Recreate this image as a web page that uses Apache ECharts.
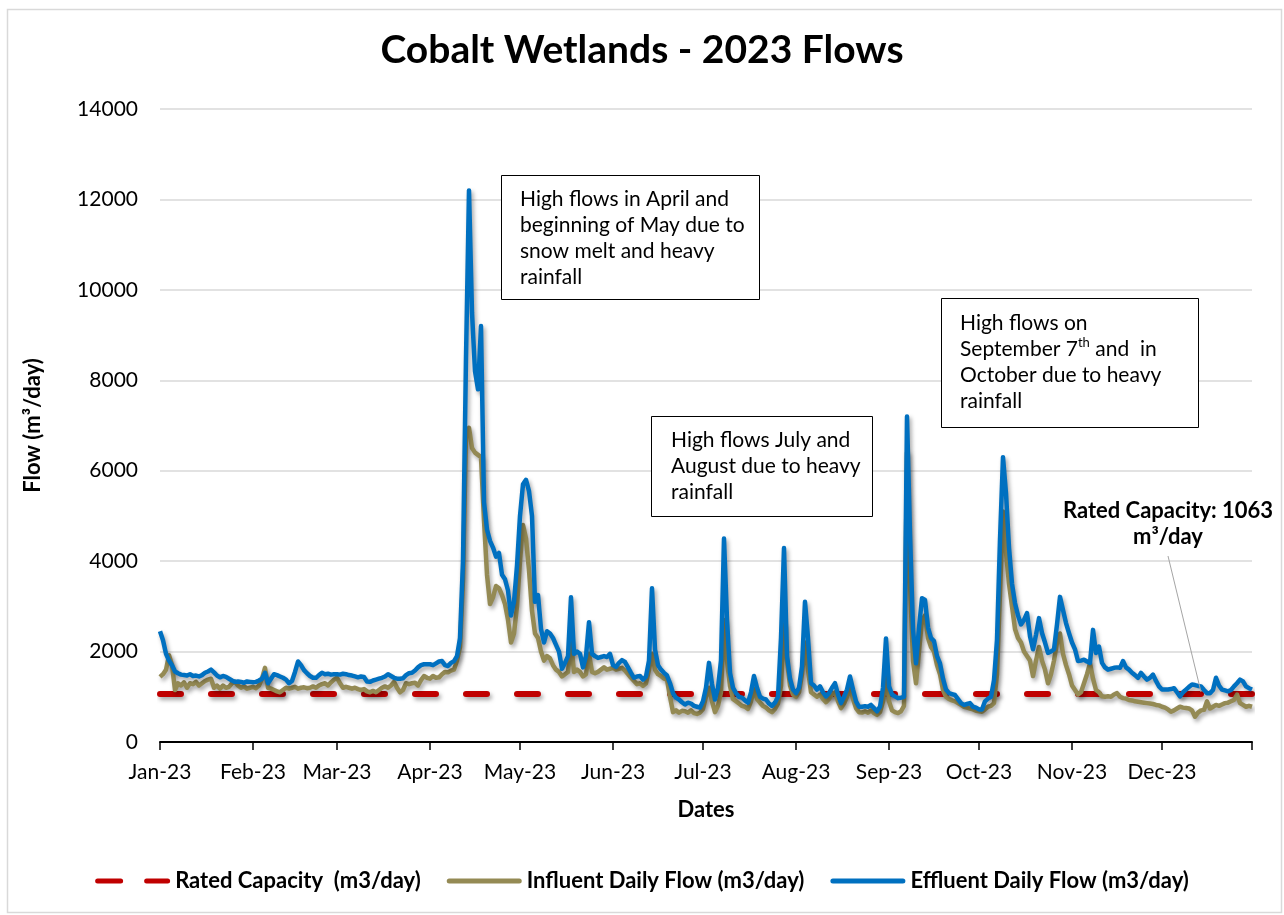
<!DOCTYPE html>
<html><head><meta charset="utf-8">
<script src="https://cdn.jsdelivr.net/npm/echarts@6/dist/echarts.min.js"></script>
<style>html,body{margin:0;padding:0;background:#fff}#c{width:1284px;height:915px}</style>
</head><body><div id="c"></div>
<script>
const YEAR = 2023;
const MONTH_LABELS = ['Jan-23','Feb-23','Mar-23','Apr-23','May-23','Jun-23','Jul-23','Aug-23','Sep-23','Oct-23','Nov-23','Dec-23'];
const RATED_CAPACITY = 1063;
const SERIES_NAMES = ['Rated Capacity  (m3/day)', 'Influent Daily Flow (m3/day)', 'Effluent Daily Flow (m3/day)'];

// Influent daily flow, one value per day, grouped by month
const INFLUENT_JAN = [1440,1500,1600,1920,1700,1150,1300,1250,1320,1200,1300,1280,1330,1250,1300,1350,1380,1400,1200,1250,1180,1250,1200,1220,1300,1330,1250,1200,1230,1180,1200];
const INFLUENT_FEB = [1220,1190,1250,1400,1640,1200,1180,1150,1120,1100,1150,1200,1180,1200,1220,1180,1200,1210,1190,1200,1230,1200,1250,1280,1300,1250,1320,1380];
const INFLUENT_MAR = [1420,1300,1200,1220,1200,1180,1200,1170,1150,1170,1120,1100,1130,1100,1150,1200,1230,1200,1250,1330,1200,1100,1150,1300,1280,1300,1310,1250,1370,1460,1420];
const INFLUENT_APR = [1400,1460,1420,1430,1500,1550,1540,1580,1600,1800,2100,3600,6800,6950,6500,6400,6350,6300,4900,3700,3050,3200,3450,3400,3250,3050,2700,2200,2400,3000];
const INFLUENT_MAY = [4000,4800,4500,3800,2900,2400,2300,2000,1800,1900,1850,1700,1600,1550,1450,1500,1550,2200,1550,1600,1550,1450,1500,1950,1550,1520,1550,1600,1650,1600,1620];
const INFLUENT_JUN = [1640,1600,1620,1640,1580,1500,1420,1350,1280,1300,1240,1300,1600,1950,1600,1500,1460,1400,1380,1000,660,700,650,690,680,650,700,640,620,650];
const INFLUENT_JUL = [730,1000,1200,900,660,800,1100,2700,1800,1240,950,900,850,800,780,730,900,1170,950,870,800,760,700,660,730,850,1240,2600,1800,1250,1050];
const INFLUENT_AUG = [1000,1100,1500,2200,1600,1100,1050,1000,1050,950,880,950,1050,1100,900,750,850,1000,1200,950,750,660,650,680,650,700,640,600,660,900,1500];
const INFLUENT_SEP = [900,700,660,640,680,800,6400,3500,1800,1300,2000,2700,2800,2300,2100,2000,1700,1500,1150,1000,950,920,900,860,820,780,760,740,720,690];
const INFLUENT_OCT = [680,670,720,780,800,860,1500,3300,5100,4200,3500,3000,2500,2300,2200,2000,1900,1800,1460,1800,2100,1800,1600,1300,1500,1800,2200,2400,1950,1700,1500];
const INFLUENT_NOV = [1250,1150,1050,1100,1300,1500,1740,1400,1150,1100,1010,1000,1010,1000,1050,1080,1000,970,960,930,920,900,890,880,870,860,850,840,820,810];
const INFLUENT_DEC = [780,760,720,670,700,740,780,760,750,740,700,560,650,700,710,900,740,780,820,800,830,860,870,900,930,1050,860,820,780,800,780];

// Effluent daily flow, one value per day, grouped by month
const EFFLUENT_JAN = [2450,2250,1950,1800,1700,1560,1520,1490,1480,1470,1500,1460,1470,1450,1480,1530,1560,1600,1540,1470,1430,1460,1440,1400,1360,1330,1340,1330,1310,1340,1330];
const EFFLUENT_FEB = [1320,1330,1360,1400,1530,1300,1400,1500,1480,1450,1420,1380,1300,1350,1550,1780,1700,1590,1520,1460,1420,1420,1480,1530,1500,1510,1490,1500];
const EFFLUENT_MAR = [1500,1490,1510,1500,1480,1470,1450,1430,1450,1440,1340,1330,1360,1380,1400,1420,1450,1500,1460,1420,1400,1400,1410,1480,1520,1530,1580,1650,1700,1720,1720];
const EFFLUENT_APR = [1720,1700,1740,1780,1790,1700,1680,1750,1790,1900,2300,4000,8500,12200,9500,8200,7800,9200,5300,4700,4450,4300,4100,4180,3700,3600,3350,2800,3100,3900];
const EFFLUENT_MAY = [5000,5700,5800,5550,5000,3100,3250,2500,2200,2450,2400,2300,2150,2000,1620,1750,1900,3200,1950,2000,1950,1650,1900,2650,1950,1900,1860,1880,1900,1880,1950];
const EFFLUENT_JUN = [1700,1660,1750,1810,1770,1650,1530,1420,1450,1460,1380,1450,1800,3400,2050,1700,1600,1530,1470,1300,1080,980,940,880,830,870,850,800,780,760];
const EFFLUENT_JUL = [900,1200,1750,1280,940,1200,1800,4500,2700,1530,1200,1080,1000,980,920,870,1100,1460,1200,1000,960,940,850,800,870,1000,2300,4290,1900,1400,1160];
const EFFLUENT_AUG = [1080,1200,1670,3100,2300,1300,1250,1160,1230,1100,1010,1080,1200,1300,1050,860,1000,1160,1450,1160,900,780,780,790,780,820,750,680,780,1200,2290];
const EFFLUENT_SEP = [1230,1050,1010,970,980,1000,7200,4600,2500,1740,2530,3180,3140,2530,2300,2230,1900,1740,1400,1160,1080,1060,1040,950,860,820,840,860,780,760];
const EFFLUENT_OCT = [720,720,900,960,1000,1370,2260,4470,6300,5500,4300,3500,3070,2800,2600,2700,2850,2340,2050,2370,2740,2410,2200,1970,2000,2050,2600,3210,2920,2630,2410];
const EFFLUENT_NOV = [2200,2050,1790,1800,1820,1780,1750,2480,1970,2110,1750,1650,1600,1620,1640,1650,1640,1790,1650,1600,1530,1480,1420,1530,1450,1380,1420,1490,1350,1230];
const EFFLUENT_DEC = [1160,1160,1160,1170,1190,1100,1010,1100,1160,1220,1270,1260,1240,1230,1150,1080,1080,1150,1420,1250,1160,1140,1120,1150,1230,1300,1380,1340,1230,1190,1160];

const Y_MIN = 0, Y_MAX = 14000, Y_STEP = 2000;

const INFLUENT = [].concat(INFLUENT_JAN, INFLUENT_FEB, INFLUENT_MAR, INFLUENT_APR, INFLUENT_MAY, INFLUENT_JUN,
  INFLUENT_JUL, INFLUENT_AUG, INFLUENT_SEP, INFLUENT_OCT, INFLUENT_NOV, INFLUENT_DEC);
const EFFLUENT = [].concat(EFFLUENT_JAN, EFFLUENT_FEB, EFFLUENT_MAR, EFFLUENT_APR, EFFLUENT_MAY, EFFLUENT_JUN,
  EFFLUENT_JUL, EFFLUENT_AUG, EFFLUENT_SEP, EFFLUENT_OCT, EFFLUENT_NOV, EFFLUENT_DEC);

// daily date categories for the year
const DATES = [];
for (let d = new Date(Date.UTC(YEAR, 0, 1)); d.getUTCFullYear() === YEAR; d.setUTCDate(d.getUTCDate() + 1)) {
  DATES.push(d.toISOString().slice(0, 10));
}
const RATED = [[DATES[0], RATED_CAPACITY], [DATES[DATES.length - 1], RATED_CAPACITY]];

const FONT = 'Lato';
const shadow = { shadowColor: 'rgba(0,0,0,0.35)', shadowBlur: 4, shadowOffsetX: 2, shadowOffsetY: 3 };

// legend icons (rounded line swatches)
const ICON_SOLID = 'path://M2.5,0H72.5A2.5,2.5,0,0,1,72.5,5H2.5A2.5,2.5,0,0,1,2.5,0Z';
const ICON_DASHED = 'path://M2.5,0H25.5A2.5,2.5,0,0,1,25.5,5H2.5A2.5,2.5,0,0,1,2.5,0ZM51.5,0H72.5A2.5,2.5,0,0,1,72.5,5H51.5A2.5,2.5,0,0,1,51.5,0Z';

const chart = echarts.init(document.getElementById('c'), null, { renderer: 'canvas' });
chart.setOption({
  animation: false,
  backgroundColor: '#fff',
  textStyle: { fontFamily: FONT },
  title: {
    text: 'Cobalt Wetlands - 2023 Flows',
    left: 'center', top: 26,
    textStyle: { fontFamily: FONT, fontSize: 39, fontWeight: 'bold', color: '#000' }
  },
  grid: { left: 160, right: 32, top: 109, bottom: 173, containLabel: false },
  legend: {
    data: [
      { name: SERIES_NAMES[0], icon: ICON_DASHED },
      { name: SERIES_NAMES[1], icon: ICON_SOLID },
      { name: SERIES_NAMES[2], icon: ICON_SOLID }
    ],
    left: 'center', top: 865,
    itemWidth: 75, itemHeight: 5, itemGap: 26,
    itemStyle: { borderWidth: 0 },
    textStyle: { fontFamily: FONT, fontSize: 22, fontWeight: 'bold', color: '#000' }
  },
  xAxis: {
    type: 'category',
    data: DATES,
    boundaryGap: false,
    name: 'Dates', nameLocation: 'middle', nameGap: 57,
    nameTextStyle: { fontFamily: FONT, fontSize: 22, fontWeight: 'bold', color: '#000' },
    axisLine: { lineStyle: { color: '#000', width: 2 } },
    axisTick: {
      length: 8, lineStyle: { color: '#000', width: 1.5 },
      interval: (i, v) => v.slice(8) === '01' || i === DATES.length - 1
    },
    axisLabel: {
      interval: (i, v) => v.slice(8) === '01',
      formatter: v => MONTH_LABELS[+v.slice(5, 7) - 1],
      fontFamily: FONT, fontSize: 21, color: '#000', margin: 20
    },
    splitLine: { show: false }
  },
  yAxis: {
    type: 'value', min: Y_MIN, max: Y_MAX, interval: Y_STEP,
    name: 'Flow (m³/day)', nameLocation: 'middle', nameGap: 116, nameRotate: 90,
    nameTextStyle: { fontFamily: FONT, fontSize: 22, fontWeight: 'bold', color: '#000' },
    axisLine: { show: false }, axisTick: { show: false },
    axisLabel: { fontFamily: FONT, fontSize: 21, color: '#000', margin: 22, formatter: v => String(v) },
    splitLine: { lineStyle: { color: '#D9D9D9', width: 1.5 } }
  },
  series: [
    {
      name: SERIES_NAMES[0], type: 'line', data: RATED, showSymbol: false, symbol: 'none',
      lineStyle: Object.assign({ color: '#C00000', width: 6, type: [21, 30], cap: 'round' }, shadow),
      itemStyle: { color: '#C00000' }
    },
    {
      name: SERIES_NAMES[1], type: 'line', data: INFLUENT, showSymbol: false, symbol: 'none',
      lineStyle: Object.assign({ color: '#948A54', width: 4.5, join: 'round' }, shadow),
      itemStyle: { color: '#948A54' }
    },
    {
      name: SERIES_NAMES[2], type: 'line', data: EFFLUENT, showSymbol: false, symbol: 'none',
      lineStyle: Object.assign({ color: '#0070C0', width: 4.5, join: 'round' }, shadow),
      itemStyle: { color: '#0070C0' }
    }
  ],
  graphic: [
    { type: 'rect', left: 5, top: 7, shape: { width: 1274, height: 903 }, style: { fill: 'none', stroke: '#D9D9D9', lineWidth: 1.5 }, silent: true },
    { type: 'rect', left: 501, top: 175, z: 10, shape: { width: 258, height: 124 }, style: { fill: '#fff', stroke: '#000', lineWidth: 1 } },
    { type: 'text', left: 520, top: 186, z: 11, style: { text: 'High flows in April and\nbeginning of May due to\nsnow melt and heavy\nrainfall', font: '21px Lato', lineHeight: 26, fill: '#000' } },
    { type: 'rect', left: 651, top: 416, z: 10, shape: { width: 221, height: 100 }, style: { fill: '#fff', stroke: '#000', lineWidth: 1 } },
    { type: 'text', left: 671, top: 427, z: 11, style: { text: 'High flows July and\nAugust due to heavy\nrainfall', font: '21px Lato', lineHeight: 26, fill: '#000' } },
    { type: 'rect', left: 941, top: 298, z: 10, shape: { width: 257, height: 129 }, style: { fill: '#fff', stroke: '#000', lineWidth: 1 } },
    { type: 'text', left: 960, top: 310, z: 11, style: {
        text: 'High flows on\nSeptember 7{sup|th} and  in\nOctober due to heavy\nrainfall',
        font: '21px Lato', lineHeight: 26, fill: '#000',
        rich: { sup: { fontSize: 13, fontFamily: FONT, verticalAlign: 'top', lineHeight: 20, fill: '#000' } }
      } },
    { type: 'text', x: 1168, y: 498, z: 11, style: { text: 'Rated Capacity: 1063\nm³/day', font: 'bold 22px Lato', lineHeight: 26, fill: '#000', align: 'center', verticalAlign: 'top' } },
    { type: 'line', z: 11, shape: { x1: 1168, y1: 556, x2: 1201, y2: 692 }, style: { stroke: '#A5A5A5', lineWidth: 1 } }
  ]
});
</script>
</body></html>
